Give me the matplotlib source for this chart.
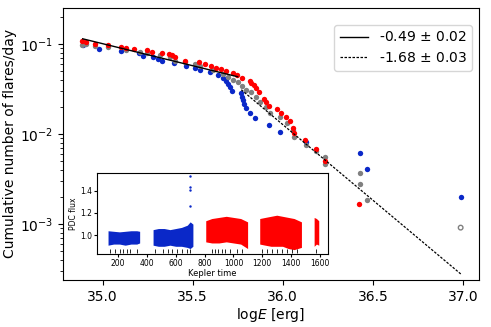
import matplotlib
matplotlib.use("Agg")
import matplotlib.pyplot as plt
import numpy as np

# cumulative flare frequency distributions (log E, flares/day)
red_logE = [34.887, 34.909, 34.959, 35.029, 35.104, 35.132, 35.172, 35.246, 35.276, 35.329,
            35.368, 35.387, 35.404, 35.456, 35.535, 35.567, 35.600, 35.632, 35.656, 35.687,
            35.724, 35.748, 35.776, 35.817, 35.826, 35.839, 35.854, 35.868, 35.894, 35.906,
            35.924, 35.968, 35.993, 36.017, 36.039, 36.057, 36.061, 36.126, 36.187, 36.233,
            36.424]
red_logf = [-0.963, -0.981, -0.997, -1.011, -1.030, -1.041, -1.056, -1.067, -1.086, -1.097,
            -1.114, -1.126, -1.148, -1.186, -1.203, -1.222, -1.241, -1.267, -1.278, -1.303,
            -1.326, -1.341, -1.374, -1.408, -1.430, -1.459, -1.492, -1.530, -1.614, -1.641,
            -1.689, -1.722, -1.770, -1.808, -1.852, -1.930, -1.986, -2.067, -2.170, -2.297,
            -2.778]

blue_logE = [34.894, 34.983, 35.104, 35.200, 35.224, 35.279, 35.307, 35.332, 35.396, 35.461,
             35.511, 35.539, 35.598, 35.641, 35.668, 35.683, 35.698, 35.709, 35.721, 35.771,
             35.774, 35.779, 35.783, 35.794, 35.817, 35.844, 35.924, 35.983, 36.128, 36.428,
             36.465, 36.987]
blue_logf = [-1.011, -1.059, -1.078, -1.103, -1.130, -1.148, -1.167, -1.186, -1.214, -1.241,
             -1.270, -1.289, -1.308, -1.344, -1.381, -1.411, -1.444, -1.481, -1.519, -1.548,
             -1.586, -1.622, -1.667, -1.714, -1.763, -1.826, -1.900, -1.981, -2.086, -2.214,
             -2.392, -2.697]

grey_logE = [34.887, 34.909, 34.959, 35.029, 35.132, 35.206, 35.246, 35.317, 35.372, 35.400,
             35.456, 35.511, 35.539, 35.613, 35.668, 35.696, 35.724, 35.752, 35.776, 35.798,
             35.826, 35.854, 35.872, 35.906, 35.928, 35.983, 36.021, 36.057, 36.063, 36.128,
             36.187, 36.233, 36.237, 36.428, 36.428, 36.465]
grey_logf = [-1.011, -1.003, -1.022, -1.030, -1.067, -1.092, -1.103, -1.122, -1.141, -1.189,
             -1.200, -1.222, -1.241, -1.289, -1.333, -1.363, -1.400, -1.419, -1.467, -1.511,
             -1.530, -1.586, -1.641, -1.697, -1.770, -1.808, -1.881, -1.956, -2.030, -2.128,
             -2.189, -2.259, -2.337, -2.430, -2.556, -2.733]
open_logE = [36.987]
open_logf = [-3.041]

# power-law fits: [start, end] in log E, value at start, slope
fit1_logE = [34.89, 35.75]
fit1_start = -0.944
fit1_slope = -0.49
fit2_logE = [35.77, 36.99]
fit2_start = -1.51
fit2_slope = -1.68

# inset light curve envelopes (Kepler time, PDC flux)
lc_blue = [
    ([131, 170, 210, 250, 290, 330, 350],
     [1.04, 1.035, 1.03, 1.035, 1.04, 1.04, 1.035],
     [0.91, 0.92, 0.92, 0.91, 0.92, 0.92, 0.93]),
    ([443, 480, 520, 560, 600, 640, 680, 700, 719],
     [1.05, 1.06, 1.06, 1.05, 1.06, 1.07, 1.09, 1.12, 1.10],
     [0.91, 0.90, 0.90, 0.91, 0.90, 0.90, 0.89, 0.88, 0.90]),
]
lc_red = [
    ([808, 850, 900, 950, 1000, 1050, 1098],
     [1.13, 1.15, 1.16, 1.17, 1.16, 1.15, 1.12],
     [0.94, 0.93, 0.93, 0.94, 0.93, 0.92, 0.88]),
    ([1182, 1220, 1260, 1300, 1340, 1380, 1420, 1471],
     [1.15, 1.16, 1.17, 1.18, 1.17, 1.16, 1.15, 1.12],
     [0.92, 0.91, 0.90, 0.90, 0.90, 0.88, 0.87, 0.89]),
    ([1559, 1575, 1591],
     [1.16, 1.15, 1.13],
     [0.90, 0.92, 0.91]),
]
spike_t = [698, 699, 700, 700]
spike_flux = [1.26, 1.41, 1.43, 1.53]
flare_t = [145, 179, 214, 235, 262, 283, 332, 456, 512, 546, 574, 608, 643, 678, 698,
           851, 871, 892, 920, 941, 975, 1024, 1058, 1197, 1231, 1266, 1300, 1335, 1370,
           1404, 1439, 1570]
flare_level = 0.86

BLUE = '#0a28c8'
RED = '#ff0000'
GREY = '#808080'

fig = plt.figure(figsize=(4.91, 3.27), dpi=100)
ax = fig.add_axes([0.128, 0.144, 0.848, 0.832])

ax.scatter(blue_logE, 10 ** np.array(blue_logf), s=15, color=BLUE, linewidths=0, zorder=2)
ax.scatter(grey_logE, 10 ** np.array(grey_logf), s=15, color=GREY, linewidths=0, zorder=3)
ax.scatter(open_logE, 10 ** np.array(open_logf), s=11, facecolors='none', edgecolors=GREY,
           linewidths=1, zorder=3)
ax.scatter(red_logE, 10 ** np.array(red_logf), s=15, color=RED, linewidths=0, zorder=4)

x1 = np.array(fit1_logE)
ax.plot(x1, 10 ** (fit1_start + fit1_slope * (x1 - x1[0])), '-', color='k', lw=1,
        label='-0.49 $\\pm$ 0.02', zorder=5)
x2 = np.array(fit2_logE)
ax.plot(x2, 10 ** (fit2_start + fit2_slope * (x2 - x2[0])), '--', color='k', lw=0.9,
        dashes=(2, 1.2), label='-1.68 $\\pm$ 0.03', zorder=5)

ax.set_yscale('log')
ax.set_xlim(34.78, 37.09)
ax.set_ylim(2.39e-4, 0.251)
ax.set_xticks([35.0, 35.5, 36.0, 36.5, 37.0])
ax.tick_params(labelsize=10)
ax.set_xlabel('log$E$ [erg]', fontsize=10, labelpad=2)
ax.set_ylabel('Cumulative number of flares/day', fontsize=10, labelpad=2)
ax.legend(loc='upper right', bbox_to_anchor=(1.0, 0.963), fontsize=10)

# inset light curve
ins = fig.add_axes([0.198, 0.223, 0.470, 0.248])
for t, hi, lo in lc_blue:
    ins.fill_between(t, lo, hi, color=BLUE, lw=0)
for t, hi, lo in lc_red:
    ins.fill_between(t, lo, hi, color=RED, lw=0)
ins.plot(spike_t, spike_flux, '.', color=BLUE, ms=1.5)
ins.plot(flare_t, [flare_level] * len(flare_t), '|', color='k', ms=2.5, mew=0.6)
ins.set_xlim(56, 1655)
ins.set_ylim(0.83, 1.56)
ins.set_xticks([200, 400, 600, 800, 1000, 1200, 1400, 1600])
ins.set_yticks([1.0, 1.2, 1.4])
ins.tick_params(labelsize=5.5, length=2, pad=1.5)
ins.set_xlabel('Kepler time', fontsize=6, labelpad=1)
ins.set_ylabel('PDC flux', fontsize=5.5, labelpad=2)

fig.savefig('out.png', dpi=100)
